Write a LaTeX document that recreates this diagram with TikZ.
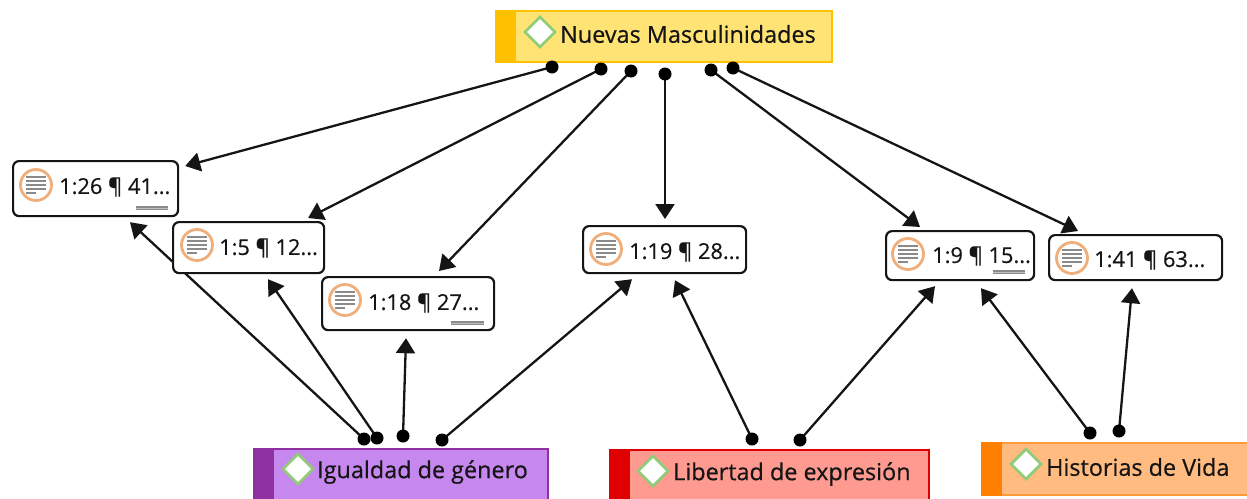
\documentclass[tikz,border=0pt]{standalone}
\usepackage{fontspec}
\setmainfont{Open Sans}
\newfontfamily\labfont[FakeBold=0.5]{Open Sans}
\usetikzlibrary{arrows.meta,backgrounds,calc}
\definecolor{ink}{HTML}{151515}
\definecolor{yelF}{HTML}{FFE375}\definecolor{yelS}{HTML}{FFC000}
\definecolor{purF}{HTML}{C688EE}\definecolor{purS}{HTML}{8E30A0}
\definecolor{redF}{HTML}{FF9A90}\definecolor{redS}{HTML}{E00000}
\definecolor{oraF}{HTML}{FFBB80}\definecolor{oraS}{HTML}{FF7F00}
\definecolor{ringC}{HTML}{EFAE7A}\definecolor{lineC}{HTML}{8A8A8A}\definecolor{diaC}{HTML}{90CC78}
\tikzset{
  x=1pt,y=-1pt,
  codebox/.style={draw=ink,fill=white,line width=2.2pt,rounded corners=6pt,anchor=north west,inner sep=0pt},
  catbox/.style={line width=1.8pt,anchor=north west,inner sep=0pt},
  stripe/.style={anchor=north west,inner sep=0pt,minimum width=21pt},
  codelabel/.style={anchor=west,inner sep=0pt,yshift=-1pt,font=\labfont\fontsize{21.8}{26}\selectfont,text=ink},
  catlabel/.style={anchor=west,inner sep=0pt,yshift=-1pt,font=\labfont\fontsize{23.4}{27}\selectfont,text=ink},
  pin/.style={circle,fill=black,inner sep=0pt,minimum size=13pt},
  conn/.style={draw=ink,line width=2.3pt,-{Triangle[length=15pt,width=19pt]}},
  mark bar/.style={draw=lineC,line width=4.5pt},
  mark mid/.style={draw=lineC!55!white,line width=1pt},
}
\newcommand{\docicon}[1]{%
  \path (#1) coordinate (ic);
  \draw[ringC,line width=2.8pt,fill=white] (ic) circle[radius=15.5pt];
  \draw[lineC,line width=2.2pt]
    ($(ic)+(-10,-8)$) -- ++(20,0) ($(ic)+(-10,-4)$) -- ++(20,0)
    ($(ic)+(-10,0)$) -- ++(20,0) ($(ic)+(-10,4)$) -- ++(20,0)
    ($(ic)+(-10,8)$) -- ++(10,0);}
\newcommand{\diamondicon}[1]{%
  \draw[diaC,line width=2.8pt,fill=white] ($(#1)+(-15,0)$) -- ($(#1)+(0,-15)$) -- ($(#1)+(15,0)$) -- ($(#1)+(0,15)$) -- cycle;}
\begin{document}
\begin{tikzpicture}
\useasboundingbox (0,0) rectangle (1247,498);
% categories
\node[catbox,draw=yelS,fill=yelF,minimum width=336pt,minimum height=51pt] (nm) at (495,10) {};
\node[stripe,fill=yelS,minimum height=53pt] (nmS) at (495,10) {};
\diamondicon{540,32}
\node[catlabel] (nmT) at (560,33) {Nuevas Masculinidades};
\node[catbox,draw=purS,fill=purF,minimum width=294pt,minimum height=52pt] (ig) at (253,448) {};
\node[stripe,fill=purS,minimum height=52pt] (igS) at (253,448) {};
\diamondicon{298,469}
\node[catlabel] (igT) at (317,471) {Igualdad de género};
\node[catbox,draw=redS,fill=redF,minimum width=319pt,minimum height=51pt] (li) at (609,449) {};
\node[stripe,fill=redS,minimum height=51pt] (liS) at (609,449) {};
\diamondicon{653,471}
\node[catlabel] (liT) at (673,473) {Libertad de expresión};
\node[catbox,draw=oraS!55!oraF,fill=oraF,minimum width=266pt,minimum height=52pt] (hi) at (981,442) {};
\node[stripe,fill=oraS,minimum height=54pt] (hiS) at (981,442) {};
\diamondicon{1026,464}
\node[catlabel] (hiT) at (1046,466) {Historias de Vida};
% code boxes
\node[codebox,minimum width=165pt,minimum height=55pt] (a) at (12,160) {};
\node[codebox,minimum width=151pt,minimum height=51pt] (b) at (172,221) {};
\node[codebox,minimum width=172pt,minimum height=53pt] (c) at (321,276) {};
\node[codebox,minimum width=163pt,minimum height=47pt] (d) at (582,225) {};
\node[codebox,minimum width=148pt,minimum height=49pt] (e) at (885,230) {};
\node[codebox,minimum width=173pt,minimum height=45pt] (f) at (1048,234) {};
\docicon{36,185}\node[codelabel] (aT) at (59,186) {1:26 ¶ 41...};
\docicon{197,245}\node[codelabel] (bT) at (219,247) {1:5 ¶ 12...};
\docicon{345,300}\node[codelabel] (cT) at (368,302) {1:18 ¶ 27...};
\docicon{606,249}\node[codelabel] (dT) at (629,251) {1:19 ¶ 28...};
\docicon{908,254}\node[codelabel] (eT) at (932,255) {1:9 ¶ 15...};
\docicon{1072,258}\node[codelabel] (fT) at (1094,259) {1:41 ¶ 63...};
\draw[mark bar] (136,208) -- (168,208);\draw[mark mid] (136,208) -- (168,208);
\draw[mark bar] (451,323) -- (484,323);\draw[mark mid] (451,323) -- (484,323);
\draw[mark bar] (993,272) -- (1025,272);\draw[mark mid] (993,272) -- (1025,272);
% pins
\node[pin] (p1) at (552,67) {};
\node[pin] (p2) at (601,69) {};
\node[pin] (p3) at (631,71) {};
\node[pin] (p4) at (665,74) {};
\node[pin] (p5) at (711,70) {};
\node[pin] (p6) at (733,68) {};
\node[pin] (q1) at (364,439) {};
\node[pin] (q2) at (377,438) {};
\node[pin] (q3) at (403,436) {};
\node[pin] (q4) at (442,440) {};
\node[pin] (r1) at (752,439) {};
\node[pin] (r2) at (800,440) {};
\node[pin] (s1) at (1090,433) {};
\node[pin] (s2) at (1119,431) {};
% connectors (behind the boxes)
\begin{scope}[on background layer]
\draw[conn] (p1.center) -- ($(a.north east)+(6,6)$);
\draw[conn] (p2.center) -- ($(b.north)+(59.5,-3)$);
\draw[conn] (p3.center) -- ($(c.north west)+(118,-5)$);
\draw[conn] (p4.center) -- ($(d.north west)+(83,-6)$);
\draw[conn] (p5.center) -- ($(e.north west)+(35,-3)$);
\draw[conn] (p6.center) -- ($(f.north west)+(30,-3)$);
\draw[conn] (q1.center) -- ($(a.south west)+(118,5)$);
\draw[conn] (q2.center) -- ($(b.south west)+(96,5)$);
\draw[conn] (q3.center) -- ($(c.south west)+(85,7)$);
\draw[conn] (q4.center) -- ($(d.south west)+(50,5)$);
\draw[conn] (r1.center) -- ($(d.south west)+(93,6)$);
\draw[conn] (r2.center) -- ($(e.south west)+(50,5)$);
\draw[conn] (s1.center) -- ($(e.south west)+(96,7)$);
\draw[conn] (s2.center) -- ($(f.south west)+(84,7)$);
\end{scope}
\end{tikzpicture}
\end{document}
